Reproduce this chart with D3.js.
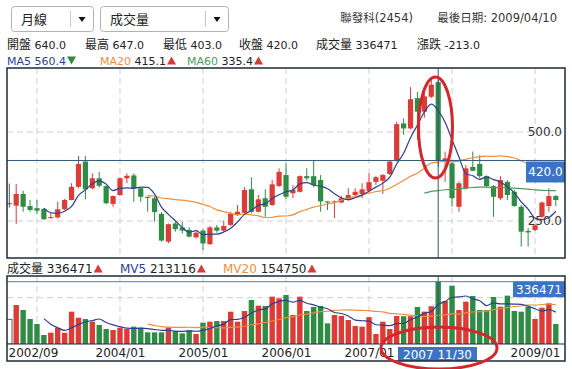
<!DOCTYPE html>
<html><head><meta charset="utf-8">
<script src="https://cdn.jsdelivr.net/npm/d3@7/dist/d3.min.js"></script>
<style>
body{margin:0;background:#fff}
svg{display:block}
text{font-family:'DejaVu Sans','Noto Sans CJK TC',sans-serif}
</style>
</head><body>
<svg id="c" width="572" height="369"></svg>
<script>
// ---------- data ----------
const months = ["2002/09","2002/10","2002/11","2002/12",
"2003/01","2003/02","2003/03","2003/04","2003/05","2003/06","2003/07","2003/08","2003/09","2003/10","2003/11","2003/12",
"2004/01","2004/02","2004/03","2004/04","2004/05","2004/06","2004/07","2004/08","2004/09","2004/10","2004/11","2004/12",
"2005/01","2005/02","2005/03","2005/04","2005/05","2005/06","2005/07","2005/08","2005/09","2005/10","2005/11","2005/12",
"2006/01","2006/02","2006/03","2006/04","2006/05","2006/06","2006/07","2006/08","2006/09","2006/10","2006/11","2006/12",
"2007/01","2007/02","2007/03","2007/04","2007/05","2007/06","2007/07","2007/08","2007/09","2007/10","2007/11","2007/12",
"2008/01","2008/02","2008/03","2008/04","2008/05","2008/06","2008/07","2008/08","2008/09","2008/10","2008/11","2008/12",
"2009/01","2009/02","2009/03","2009/04"];
const openP  = [300,293,326,292,286,284,258,260,283,309,346,417,342,370,348,298,323,370,378,342,318,314,270,192,243,232,225,204,223,185,232,223,239,267,273,339,276,314,295,348,379,328,332,376,376,365,305,302,302,309,323,326,335,360,363,382,420,524,510,595,557,599,640,418,412,290,342,402,410,376,348,314,360,332,290,222,225,262,292,320];
const highP  = [355,354,335,309,309,286,273,304,312,356,433,433,384,388,350,322,373,384,384,343,318,320,275,243,248,248,232,220,227,236,239,251,276,295,345,373,323,339,365,398,412,351,378,398,420,379,306,308,320,342,342,356,384,377,382,420,529,538,626,613,610,646,647,445,416,361,407,445,435,378,351,376,365,337,295,230,242,305,342,323];
const lowP   = [288,242,276,276,270,253,257,257,280,308,342,311,339,344,297,290,320,356,304,304,276,248,192,187,220,215,204,201,168,183,217,220,236,264,271,271,274,262,292,346,312,314,330,363,345,276,281,258,300,307,318,314,332,351,326,379,417,492,507,478,540,595,403,360,290,276,338,390,370,345,262,309,309,290,178,178,222,258,276,292];
const closeP = [300,326,290,281,279,255,261,283,309,346,410,339,370,349,300,320,370,377,342,318,315,275,195,241,227,223,206,217,187,232,223,236,271,276,337,276,311,290,353,388,318,337,376,370,351,305,302,305,314,323,332,339,359,373,379,417,522,510,592,557,600,633,420,426,314,356,398,391,376,348,318,365,323,292,220,218,238,302,320,309];
const volume = [133000,210600,183600,135000,108000,48600,61000,88000,61000,174500,142000,135000,120700,102600,81000,75600,88000,81000,93600,88000,63000,63000,63000,89700,70000,57600,73500,54000,115200,120700,124000,124000,174500,120700,178000,237600,207000,205300,255700,246700,264600,156600,255700,178200,200000,205000,111600,156600,151200,129600,97200,93600,145000,54000,120500,81000,151200,150000,150000,200000,175000,204000,336471,232200,315000,183600,228600,259300,183600,183600,253800,201600,261000,178200,174600,201600,135000,196200,219600,108000];
const xTickMonths = ["2002/09","2004/01","2005/01","2006/01","2007/01","2009/01"];
const gridMonths = ["2003/01","2004/01","2005/01","2006/01","2007/01","2008/01","2009/01"];
const priceTicks = [250, 500];
const volumeGrid = [250000];
// header read-outs at the crosshair month
const crossMonth = "2007/11";
const crossLabel = "2007 11/30";
const quoteNames = ["開盤", "最高", "最低", "收盤", "成交量", "漲跌"];
const quoteValues = ["640.0", "647.0", "403.0", "420.0", "336471", "-213.0"];
const maNames = ["MA5", "MA20", "MA60"];
const maValues = ["560.4", "415.1", "335.4"];
const maUp = [false, true, true];
const volNames = ["成交量", "MV5", "MV20"];
const volValues = ["336471", "213116", "154750"];
const volUp = [true, true, true];
const stockTitle = "聯發科(2454)";
const lastDate = "最後日期: 2009/04/10";

// ---------- layout ----------
const svg = d3.select("#c");
const L = 7, R = 565;
const mainTop = 68, mainBot = 258;
const volTop = 276, volBot = 344, volAxisBot = 361;
const RED = "#dd3b36", GREEN = "#2f8c45", NAVY = "#2e3f8f", ORANGE = "#ef8f3c", MGREEN = "#4e9a5e";
const CROSS = "#34597a", BOX = "#3b74c4";

const x = d3.scalePoint().domain(months).range([9.3, 555.8]);
const y = d3.scaleLinear().domain([250, 500]).range([221, 132]);
const yv = d3.scaleLinear().domain([0, 336471]).range([volBot, 281.7]);

const data = months.map((m, i) => ({m, i, o: openP[i], h: highP[i], l: lowP[i], c: closeP[i], v: volume[i]}));
const col = d => d.c > d.o ? RED : (d.c < d.o ? GREEN : "#555");

function movingAvg(arr, n) {
  const out = [];
  for (let i = n; i < arr.length; i++) out.push({m: months[i], v: d3.mean(arr.slice(i - n + 1, i + 1))});
  return out;
}

// ---------- header ----------
function dropdown(x0, w, label) {
  const g = svg.append("g");
  g.append("rect").attr("x", x0 + 0.5).attr("y", 6.5).attr("width", w).attr("height", 25).attr("rx", 3)
    .attr("fill", "#fff").attr("stroke", "#b3b3b3");
  g.append("line").attr("x1", x0 + w - 22.5).attr("x2", x0 + w - 22.5).attr("y1", 11).attr("y2", 27).attr("stroke", "#c8c8c8");
  g.append("text").attr("x", x0 + 10).attr("y", 24).attr("font-size", 13).attr("fill", "#222").text(label);
  g.append("path").attr("d", `M${x0 + w - 14.5},17 l7,0 l-3.5,5 z`).attr("fill", "#111");
}
dropdown(11, 82, "月線");
dropdown(100, 128, "成交量");

svg.append("text").attr("x", 413).attr("y", 21.5).attr("text-anchor", "end").attr("font-size", 11.5).attr("fill", "#333").text(stockTitle);
svg.append("text").attr("x", 557).attr("y", 21.5).attr("text-anchor", "end").attr("font-size", 11.5).attr("fill", "#333").text(lastDate);

const row2X = [7, 85, 163, 239, 316, 417];
quoteNames.forEach((a, k) => {
  const t = svg.append("text").attr("x", row2X[k]).attr("y", 48.5).attr("font-size", 11).attr("fill", "#222");
  t.append("tspan").attr("font-size", 12).text(a);
  t.append("tspan").text(" " + quoteValues[k]);
});

function tri(xx, yy, up) {
  svg.append("path")
    .attr("d", up ? `M${xx},${yy} l4.5,-8 l4.5,8 z` : `M${xx},${yy - 8} l9,0 l-4.5,8 z`)
    .attr("fill", up ? "#d83a3a" : "#2f8c45");
}
function legendItem(xx, yy, fs, name, color, val, up, valColor) {
  const t = svg.append("text").attr("x", xx).attr("y", yy).attr("font-size", fs);
  t.append("tspan").attr("fill", color).text(name + " ");
  t.append("tspan").attr("fill", valColor).text(val);
  const w = t.node().getComputedTextLength();
  tri(xx + w + 1, yy, up);
}
const maColors = [NAVY, ORANGE, MGREEN];
const maValColors = [NAVY, "#222", "#222"];
const maX = [7, 100, 187];
maNames.forEach((n, k) => legendItem(maX[k], 64.5, 11, n, maColors[k], maValues[k], maUp[k], maValColors[k]));

const volColors = ["#222", NAVY, ORANGE];
const volX = [7, 120, 223];
volNames.forEach((n, k) => legendItem(volX[k], 272.5, 12, n, volColors[k], volValues[k], volUp[k], "#222"));

const ma5 = movingAvg(closeP, 5), ma20 = movingAvg(closeP, 20), ma60 = movingAvg(closeP, 60);
const mv5 = movingAvg(volume, 5), mv20 = movingAvg(volume, 20);

// ---------- main chart ----------
const defs = svg.append("defs");
defs.append("clipPath").attr("id", "mclip").append("rect")
  .attr("x", L).attr("y", mainTop).attr("width", R - L).attr("height", mainBot - mainTop);
defs.append("clipPath").attr("id", "vclip").append("rect")
  .attr("x", L).attr("y", volTop).attr("width", R - L).attr("height", volBot - volTop);

const ci = months.indexOf(crossMonth);
const cd = data[ci];
const fmt1 = d3.format(".1f");

const gm = svg.append("g");
gm.selectAll(".vg").data(gridMonths).join("line")
  .attr("x1", d => x(d)).attr("x2", d => x(d)).attr("y1", mainTop).attr("y2", mainBot)
  .attr("stroke", "#cfcfcf").attr("stroke-dasharray", "6,4");
gm.selectAll(".hg").data(priceTicks).join("line")
  .attr("x1", L).attr("x2", R).attr("y1", d => y(d)).attr("y2", d => y(d))
  .attr("stroke", "#cfcfcf").attr("stroke-dasharray", "6,4");

const ya = gm.append("g").attr("transform", `translate(${R},0)`)
  .call(d3.axisLeft(y).tickValues(priceTicks).tickSize(0).tickPadding(3).tickFormat(fmt1));
ya.select(".domain").remove();
ya.selectAll("text").attr("font-size", 12).attr("fill", "#333").attr("font-family", "'DejaVu Sans',sans-serif");

const gc = gm.append("g").attr("clip-path", "url(#mclip)");
gc.selectAll(".wick").data(data).join("line")
  .attr("x1", d => x(d.m)).attr("x2", d => x(d.m))
  .attr("y1", d => y(d.h)).attr("y2", d => y(d.l))
  .attr("stroke", col).attr("stroke-width", 1);
gc.selectAll(".body").data(data).join("rect")
  .attr("x", d => x(d.m) - 2.6).attr("width", 5.2)
  .attr("y", d => y(Math.max(d.o, d.c)))
  .attr("height", d => Math.max(1, Math.abs(y(d.o) - y(d.c))))
  .attr("fill", col);

const lineP = d3.line().x(d => x(d.m)).y(d => y(d.v)).curve(d3.curveMonotoneX);
[[ma60, MGREEN], [ma20, ORANGE], [ma5, NAVY]].forEach(([arr, c]) => {
  gc.append("path").datum(arr).attr("d", lineP).attr("fill", "none").attr("stroke", c).attr("stroke-width", 1.2);
});

gm.append("line").attr("x1", L).attr("x2", R).attr("y1", y(cd.c)).attr("y2", y(cd.c)).attr("stroke", CROSS).attr("stroke-width", 1);
gm.append("line").attr("x1", x(crossMonth)).attr("x2", x(crossMonth)).attr("y1", mainTop).attr("y2", mainBot).attr("stroke", CROSS).attr("stroke-width", 1);
gm.append("rect").attr("x", 526).attr("y", y(cd.c) + 1).attr("width", R - 526).attr("height", 21).attr("fill", BOX);
gm.append("text").attr("x", (526 + R) / 2).attr("y", y(cd.c) + 16).attr("text-anchor", "middle")
  .attr("font-size", 12).attr("fill", "#fff").text(fmt1(cd.c));

gm.append("rect").attr("x", L).attr("y", mainTop).attr("width", R - L).attr("height", mainBot - mainTop)
  .attr("fill", "none").attr("stroke", "#1c2b3a").attr("stroke-width", 1.5);

// ---------- volume chart ----------
const gv = svg.append("g");
gv.selectAll(".vg").data(gridMonths).join("line")
  .attr("x1", d => x(d)).attr("x2", d => x(d)).attr("y1", volTop).attr("y2", volBot)
  .attr("stroke", "#cfcfcf").attr("stroke-dasharray", "6,4");
gv.selectAll(".hg").data(volumeGrid).join("line")
  .attr("x1", L).attr("x2", R).attr("y1", d => yv(d)).attr("y2", d => yv(d))
  .attr("stroke", "#cfcfcf").attr("stroke-dasharray", "6,4");

const gb = gv.append("g").attr("clip-path", "url(#vclip)");
gb.selectAll(".vb").data(data).join("rect")
  .attr("x", d => x(d.m) - 2.7).attr("width", 5.4)
  .attr("y", d => yv(d.v)).attr("height", d => volBot - yv(d.v))
  .attr("fill", d => d.c === d.o ? "#fff" : col(d))
  .attr("stroke", d => d.c === d.o ? "#555" : "none");

const lineV = d3.line().x(d => x(d.m)).y(d => yv(d.v)).curve(d3.curveMonotoneX);
[[mv20, ORANGE], [mv5, NAVY]].forEach(([arr, c]) => {
  gb.append("path").datum(arr).attr("d", lineV).attr("fill", "none").attr("stroke", c).attr("stroke-width", 1.2);
});

gv.append("line").attr("x1", L).attr("x2", R).attr("y1", yv(cd.v)).attr("y2", yv(cd.v)).attr("stroke", CROSS).attr("stroke-width", 0.8);
gv.append("line").attr("x1", x(crossMonth)).attr("x2", x(crossMonth)).attr("y1", volTop).attr("y2", volBot).attr("stroke", CROSS).attr("stroke-width", 1);
gv.append("rect").attr("x", 513).attr("y", yv(cd.v)).attr("width", R - 513).attr("height", 15.5).attr("fill", BOX);
gv.append("text").attr("x", (513 + R) / 2).attr("y", yv(cd.v) + 12).attr("text-anchor", "middle")
  .attr("font-size", 12).attr("fill", "#fff").text(String(cd.v));

const xa = gv.append("g").attr("transform", `translate(0,${volBot})`)
  .call(d3.axisBottom(x).tickValues(xTickMonths).tickSize(0).tickPadding(4));
xa.select(".domain").remove();
xa.selectAll("text").attr("font-size", 12).attr("fill", "#222").attr("font-family", "'DejaVu Sans',sans-serif");
xa.selectAll("text").filter(d => d === months[0]).attr("text-anchor", "start").attr("dx", 8 - x(months[0]));

gv.append("rect").attr("x", 398).attr("y", 347).attr("width", 79).attr("height", 14).attr("fill", BOX);
gv.append("text").attr("x", 437.5).attr("y", 358.5).attr("text-anchor", "middle").attr("font-size", 12).attr("fill", "#fff").text(crossLabel);

gv.append("rect").attr("x", L).attr("y", volTop).attr("width", R - L).attr("height", volAxisBot - volTop)
  .attr("fill", "none").attr("stroke", "#1c2b3a").attr("stroke-width", 1.5);
gv.append("line").attr("x1", L).attr("x2", R).attr("y1", volBot).attr("y2", volBot).attr("stroke", "#1c2b3a").attr("stroke-width", 1.2);

// ---------- annotations ----------
svg.append("ellipse").attr("cx", 435.5).attr("cy", 127.5).attr("rx", 17).attr("ry", 50.5)
  .attr("fill", "none").attr("stroke", "#d6262b").attr("stroke-width", 3);
svg.append("ellipse").attr("cx", 439).attr("cy", 348).attr("rx", 58).attr("ry", 21)
  .attr("fill", "none").attr("stroke", "#d6262b").attr("stroke-width", 3);
</script>
</body></html>
